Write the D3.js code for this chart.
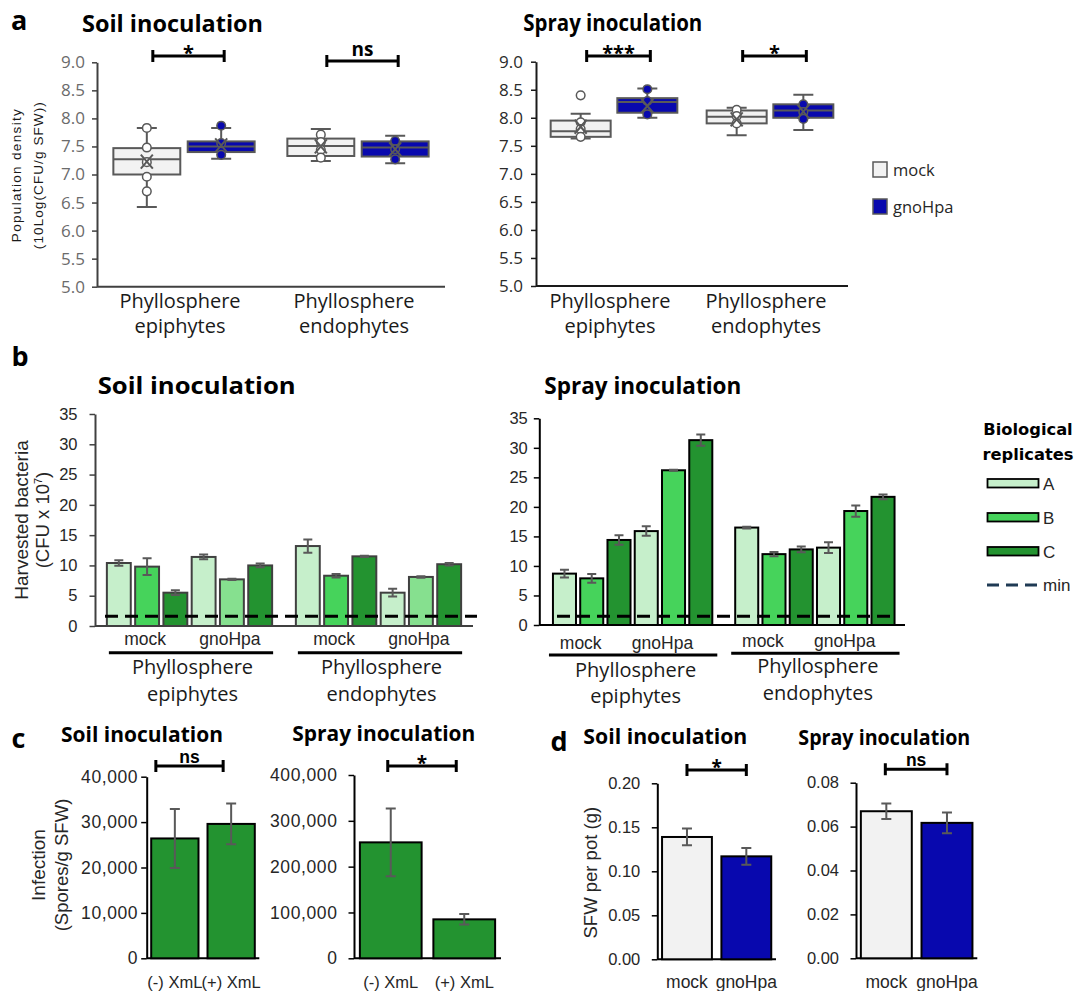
<!DOCTYPE html>
<html lang="en">
<head>
<meta charset="utf-8">
<title>Phyllosphere colonisation, infection and shoot weight</title>
<script src="https://cdn.jsdelivr.net/npm/d3@7/dist/d3.min.js"></script>
<style>
  html, body { margin: 0; background: #fff; }
  svg { display: block; }
</style>
</head>
<body>
<script>
// ---------- shared categories ----------
const compartments = ["epiphytes", "endophytes"];
const conditions = ["mock", "gnoHpa"];
const replicates = ["A", "B", "C"];

// ---------- a: population density, 10Log(CFU/g SFW) ----------
// box order: epiphytes-mock, epiphytes-gnoHpa, endophytes-mock, endophytes-gnoHpa
const densityTicks = [5.0, 5.5, 6.0, 6.5, 7.0, 7.5, 8.0, 8.5, 9.0];

const soilLow      = [6.42, 7.28, 7.24, 7.20];
const soilQ1       = [7.00, 7.40, 7.33, 7.32];
const soilMedian   = [7.27, 7.50, 7.51, 7.48];
const soilQ3       = [7.47, 7.59, 7.64, 7.59];
const soilHigh     = [7.83, 7.83, 7.81, 7.69];
const soilMean     = [7.23, 7.52, 7.50, 7.45];
const soilPoints   = [[7.83, 7.48, 7.22, 6.96, 6.70], [7.87, 7.56, 7.35], [7.71, 7.58, 7.44, 7.30], [7.60, 7.45, 7.27]];
const soilOutliers = [[], [], [], []];
const soilDensitySig = ["*", "ns"];

const sprayLow      = [7.63, 8.00, 7.69, 7.78];
const sprayQ1       = [7.66, 8.09, 7.90, 8.00];
const sprayMedian   = [7.76, 8.28, 8.02, 8.13];
const sprayQ3       = [7.95, 8.35, 8.13, 8.24];
const sprayHigh     = [8.07, 8.52, 8.18, 8.41];
const sprayMean     = [7.84, 8.21, 7.97, 8.11];
const sprayPoints   = [[7.92, 7.80, 7.66], [8.51, 8.30, 8.06], [8.14, 8.03, 7.90], [8.24, 8.10, 7.98]];
const sprayOutliers = [[8.40], [], [], []];
const sprayDensitySig = ["***", "*"];

// ---------- b: harvested bacteria (CFU x 10^7) ----------
// order: compartment > condition > replicate (A, B, C)
const harvestTicks = [0, 5, 10, 15, 20, 25, 30, 35];
const soilHarvest     = [10.4, 9.8, 5.5, 11.4, 7.7, 10.0, 13.2, 8.3, 11.5, 5.5, 8.1, 10.2];
const soilHarvestErr  = [0.45, 1.4, 0.4, 0.4, 0.1, 0.3, 1.1, 0.3, 0.1, 0.65, 0.12, 0.2];
const sprayHarvest    = [8.7, 7.9, 14.4, 15.9, 26.2, 31.3, 16.5, 12.0, 12.8, 13.1, 19.3, 21.7];
const sprayHarvestErr = [0.65, 0.75, 0.8, 0.8, 0.1, 0.95, 0.15, 0.35, 0.5, 0.9, 0.95, 0.4];
const soilDetectionMin  = 1.6;
const sprayDetectionMin = 1.5;

// ---------- c: infection (spores/g SFW) ----------
const xmlLabels = ["(-) XmL", "(+) XmL"];
const soilSpores     = [26400, 29600];
const soilSporesErr  = [6500, 4500];
const sporeTicksSoil = [0, 10000, 20000, 30000, 40000];
const spraySpores     = [253000, 85000];
const spraySporesErr  = [74000, 11500];
const sporeTicksSpray = [0, 100000, 200000, 300000, 400000];
const sporeSig = ["ns", "*"];

// ---------- d: shoot fresh weight per pot (g) ----------
const soilSFW      = [0.139, 0.117];
const soilSFWErr   = [0.0095, 0.0095];
const sfwTicksSoil = [0, 0.05, 0.10, 0.15, 0.20];
const spraySFW      = [0.067, 0.0617];
const spraySFWErr   = [0.0035, 0.0047];
const sfwTicksSpray = [0, 0.02, 0.04, 0.06, 0.08];
const sfwSig = ["*", "ns"];

// ---------- styling ----------
const SANS  = "'Open Sans', 'Noto Sans', sans-serif";
const ARIAL = "'Liberation Sans', Arial, sans-serif";
const WIDE  = "'DejaVu Sans', sans-serif";
const MOCK_FILL = "#f2f2f2";
const GNO_FILL  = "#0808ae";
const GREY = "#595959";
const REP_FILL = { A: "#c6efcb", B: "#46d35b", C: "#239330" };
const REP_B_PALE = "#86e08f";
const INFECTION_FILL = "#239330";

const svg = d3.select("body").append("svg")
  .attr("width", 1075).attr("height", 991).attr("viewBox", "0 0 1075 991");

function addText(x, y, str, o = {}) {
  const t = svg.append("text")
    .attr("x", x).attr("y", y)
    .attr("font-family", o.family || SANS)
    .attr("font-size", o.size || 16)
    .attr("font-weight", o.weight || 400)
    .attr("fill", o.fill || "#000")
    .attr("text-anchor", o.anchor || "start")
    .text(str);
  if (o.length) t.attr("textLength", o.length).attr("lengthAdjust", o.adjust || "spacingAndGlyphs");
  if (o.spacing) t.attr("letter-spacing", o.spacing);
  if (o.rotate) t.attr("transform", `rotate(-90 ${x} ${y})`);
  return t;
}

function styleAxis(g, o) {
  g.select(".domain").attr("stroke", o.line).attr("stroke-width", 2);
  g.selectAll(".tick line").attr("stroke", o.line).attr("stroke-width", 1.5);
  g.selectAll(".tick text")
    .attr("fill", o.color).attr("font-family", o.family)
    .attr("font-size", o.size).attr("letter-spacing", o.spacing || 0);
}

function yAxis(x, scale, ticks, fmt, o) {
  const g = svg.append("g").attr("transform", `translate(${x},0)`)
    .call(d3.axisLeft(scale).tickValues(ticks).tickFormat(fmt)
      .tickSize(o.tickSize || 5).tickSizeOuter(0).tickPadding(o.pad));
  styleAxis(g, o);
  return g;
}

// significance bracket; o.compact sets "ns" in a face with tighter line metrics
function bracket(x1, x2, y, label, o = {}) {
  svg.append("path")
    .attr("d", `M${x1},${y - 6}V${y + 6}M${x1},${y}H${x2}M${x2},${y - 6}V${y + 6}`)
    .attr("fill", "none").attr("stroke", "#000").attr("stroke-width", 3);
  const star = label.includes("*");
  if (star) {
    addText((x1 + x2) / 2, y + 4, label, { anchor: "middle", weight: 700, size: o.starSize || 20 });
  } else if (o.compact) {
    addText((x1 + x2) / 2, y - 3, label, { anchor: "middle", weight: 700, size: 17.5, family: ARIAL });
  } else {
    addText((x1 + x2) / 2, y - 5, label, { anchor: "middle", weight: 700, size: o.nsSize || 19 });
  }
}

// ---------- a: box plots ----------
function densityPanel(cfg) {
  const y = d3.scaleLinear().domain([5, 9]).range([cfg.y0, cfg.y1]);
  const gx = d3.scaleBand().domain(compartments).range([cfg.x0, cfg.x1]);
  const cx = d3.scaleBand().domain(conditions).range([0, gx.bandwidth()])
    .paddingInner(0.1).paddingOuter(0.22);
  const boxes = [];
  compartments.forEach((comp, i) => conditions.forEach((cond, j) => {
    const k = i * 2 + j;
    boxes.push({ comp, cond, low: cfg.low[k], q1: cfg.q1[k], med: cfg.median[k], q3: cfg.q3[k],
      high: cfg.high[k], mean: cfg.mean[k], points: cfg.points[k], outliers: cfg.outliers[k] });
  }));
  const left = d => gx(d.comp) + cx(d.cond);
  const mid = d => left(d) + cx.bandwidth() / 2;
  const fill = d => d.cond === "mock" ? MOCK_FILL : GNO_FILL;

  yAxis(cfg.x0, y, densityTicks, d3.format(".1f"),
    { line: cfg.axisColor, color: cfg.tickColor, family: SANS, size: 17, pad: cfg.pad });
  svg.append("line").attr("x1", cfg.x0).attr("x2", cfg.x1).attr("y1", y(5)).attr("y2", y(5))
    .attr("stroke", cfg.axisColor).attr("stroke-width", 2);

  const g = svg.append("g");
  const cap = 10;
  const bx = g.selectAll("g.box").data(boxes).join("g").attr("class", "box");
  // whiskers
  bx.append("path")
    .attr("d", d => `M${mid(d)},${y(d.q3)}V${y(d.high)}M${mid(d) - cap},${y(d.high)}H${mid(d) + cap}` +
      `M${mid(d)},${y(d.q1)}V${y(d.low)}M${mid(d) - cap},${y(d.low)}H${mid(d) + cap}`)
    .attr("fill", "none").attr("stroke", GREY).attr("stroke-width", 2);
  // box + median
  bx.append("rect")
    .attr("x", left).attr("width", cx.bandwidth())
    .attr("y", d => y(d.q3)).attr("height", d => y(d.q1) - y(d.q3))
    .attr("fill", fill).attr("stroke", GREY).attr("stroke-width", 2);
  bx.append("line")
    .attr("x1", left).attr("x2", d => left(d) + cx.bandwidth())
    .attr("y1", d => y(d.med)).attr("y2", d => y(d.med))
    .attr("stroke", GREY).attr("stroke-width", 2);
  // inner points and outliers
  bx.selectAll("circle")
    .data(d => d.points.concat(d.outliers).map(v => ({ v, d })))
    .join("circle")
    .attr("cx", p => mid(p.d)).attr("cy", p => y(p.v)).attr("r", 4.3)
    .attr("fill", p => p.d.cond === "mock" ? "#fff" : GNO_FILL)
    .attr("stroke", GREY).attr("stroke-width", 1.5);
  // mean marker
  bx.append("path")
    .attr("d", d => {
      const m = mid(d), v = y(d.mean);
      return `M${m - 6},${v - 7}L${m + 6},${v + 7}M${m - 6},${v + 7}L${m + 6},${v - 7}`;
    })
    .attr("fill", "none").attr("stroke", GREY).attr("stroke-width", 2);

  // significance
  compartments.forEach((comp, i) => {
    const b0 = boxes[i * 2], b1 = boxes[i * 2 + 1];
    bracket(mid(b0) + 6, mid(b1) + 3, cfg.bracketY[i], cfg.sig[i]);
  });

  // category labels
  compartments.forEach(comp => {
    const c = gx(comp) + gx.bandwidth() / 2 - 4;
    addText(c, cfg.y0 + 21.5, "Phyllosphere", { anchor: "middle", size: 20, fill: "#1a1a1a" });
    addText(c, cfg.y0 + 46.5, comp, { anchor: "middle", size: 20, fill: "#1a1a1a" });
  });
}

densityPanel({
  x0: 97, x1: 445, y0: 286.7, y1: 62.3, pad: 7,
  axisColor: "#404040", tickColor: "#6b6b6b",
  low: soilLow, q1: soilQ1, median: soilMedian, q3: soilQ3, high: soilHigh, mean: soilMean,
  points: soilPoints, outliers: soilOutliers, sig: soilDensitySig, bracketY: [56, 61]
});
densityPanel({
  x0: 536, x1: 848, y0: 286, y1: 61.7, pad: 8,
  axisColor: "#1a1a1a", tickColor: "#2b2b2b",
  low: sprayLow, q1: sprayQ1, median: sprayMedian, q3: sprayQ3, high: sprayHigh, mean: sprayMean,
  points: sprayPoints, outliers: sprayOutliers, sig: sprayDensitySig, bracketY: [56, 56]
});

addText(11, 29.5, "a", { weight: 700, size: 27 });
addText(82, 31.7, "Soil inoculation", { weight: 700, size: 23.5, length: 181 });
addText(523.3, 31, "Spray inoculation", { weight: 700, size: 23.5, length: 179 });
addText(21.5, 175.7, "Population density", { family: ARIAL, size: 13.5, rotate: true, anchor: "middle", length: 133, adjust: "spacing", fill: "#1a1a1a" });
addText(43, 175.7, "(10Log(CFU/g SFW))", { family: ARIAL, size: 13.5, rotate: true, anchor: "middle", length: 147, adjust: "spacing", fill: "#1a1a1a" });

// legend for a
conditions.forEach((cond, i) => {
  svg.append("rect").attr("x", 873).attr("y", 162 + i * 37).attr("width", 14).attr("height", 15)
    .attr("fill", cond === "mock" ? MOCK_FILL : GNO_FILL).attr("stroke", GREY).attr("stroke-width", 1.5);
  addText(893, 176 + i * 37, cond, { size: 16.5, fill: "#262626" });
});

// ---------- b: harvested bacteria ----------
function harvestPanel(cfg) {
  const y = d3.scaleLinear().domain([0, 35]).range([cfg.y0, cfg.y1]);
  const gx = d3.scaleBand().domain(compartments).range(cfg.band);
  const slots = d3.range(conditions.length * replicates.length);
  const bx = d3.scaleBand().domain(slots).range([0, gx.bandwidth()]).paddingInner(0.155).paddingOuter(0.42);
  const bars = cfg.values.map((v, i) => ({
    v, e: cfg.errors[i],
    comp: compartments[Math.floor(i / 6)],
    cond: conditions[Math.floor((i % 6) / 3)],
    rep: replicates[i % 3],
    slot: i % 6
  }));
  const left = d => gx(d.comp) + bx(d.slot);
  const mid = d => left(d) + bx.bandwidth() / 2;

  yAxis(cfg.x0, y, harvestTicks, d3.format("d"),
    { line: cfg.axisColor, color: "#262626", family: ARIAL, size: 16.5, pad: cfg.pad, tickSize: 5.5 });
  svg.append("line").attr("x1", cfg.x0).attr("x2", cfg.x1).attr("y1", y(0)).attr("y2", y(0))
    .attr("stroke", cfg.axisColor).attr("stroke-width", 2);

  svg.append("g").selectAll("rect").data(bars).join("rect")
    .attr("x", left).attr("width", bx.bandwidth())
    .attr("y", d => y(d.v)).attr("height", d => y(0) - y(d.v))
    .attr("fill", d => cfg.fill(d)).attr("stroke", cfg.barStroke).attr("stroke-width", 2);

  svg.append("g").selectAll("path").data(bars).join("path")
    .attr("d", d => `M${mid(d)},${y(d.v - d.e)}V${y(d.v + d.e)}` +
      `M${mid(d) - 4.5},${y(d.v + d.e)}H${mid(d) + 4.5}M${mid(d) - 4.5},${y(d.v - d.e)}H${mid(d) + 4.5}`)
    .attr("fill", "none").attr("stroke", GREY).attr("stroke-width", 2);

  // detection limit
  svg.append("line").attr("x1", cfg.minX[0]).attr("x2", cfg.minX[1])
    .attr("y1", y(cfg.min)).attr("y2", y(cfg.min))
    .attr("stroke", "#000").attr("stroke-width", 3).attr("stroke-dasharray", "13,7");

  // condition and compartment labels
  compartments.forEach((comp, i) => {
    const groupBars = bars.filter(b => b.comp === comp);
    conditions.forEach(cond => {
      const cb = groupBars.filter(b => b.cond === cond);
      addText(mid(cb[1]) + cfg.labelShift, cfg.condY[i], cond, { anchor: "middle", family: ARIAL, size: 17.5, fill: "#262626" });
    });
    const first = groupBars[0], last = groupBars[groupBars.length - 1];
    svg.append("line")
      .attr("x1", left(first) + cfg.underline[0]).attr("x2", left(last) + bx.bandwidth() + cfg.underline[1])
      .attr("y1", cfg.lineY[i]).attr("y2", cfg.lineY[i])
      .attr("stroke", "#000").attr("stroke-width", 3);
    const c = gx(comp) + gx.bandwidth() / 2 + 3;
    addText(c, cfg.nameY[i][0], "Phyllosphere", { anchor: "middle", size: 20, fill: "#1a1a1a" });
    addText(c, cfg.nameY[i][1], comp, { anchor: "middle", size: 20, fill: "#1a1a1a" });
  });
}

harvestPanel({
  x0: 95, x1: 473, y0: 626, y1: 414, band: [95, 473], pad: 12,
  axisColor: "#404040", barStroke: "#404040",
  values: soilHarvest, errors: soilHarvestErr, min: soilDetectionMin, minX: [105, 477],
  fill: d => (d.rep === "B" && d.cond === "gnoHpa") ? REP_B_PALE : REP_FILL[d.rep],
  labelShift: -2, condY: [645, 645], lineY: [652.7, 652.7], underline: [2, 1],
  nameY: [[674.3, 701], [674.3, 701]]
});
harvestPanel({
  x0: 539.3, x1: 905, y0: 625, y1: 418.3, band: [541.5, 906], pad: 6,
  axisColor: "#000", barStroke: "#000",
  values: sprayHarvest, errors: sprayHarvestErr, min: sprayDetectionMin, minX: [557, 893],
  fill: d => REP_FILL[d.rep],
  labelShift: -11, condY: [649, 647], lineY: [655, 653.3], underline: [-4, 5],
  nameY: [[676.7, 703.3], [673.3, 700]]
});

addText(11.5, 366, "b", { weight: 700, size: 27 });
addText(97.7, 394.3, "Soil inoculation", { weight: 700, size: 23, length: 198 });
addText(544.3, 394, "Spray inoculation", { weight: 700, size: 23, length: 197 });
addText(27.5, 520, "Harvested bacteria", { family: ARIAL, size: 19, rotate: true, anchor: "middle", fill: "#262626" });
const cfuLabel = addText(49, 520, "(CFU x 10", { family: ARIAL, size: 18.5, rotate: true, anchor: "middle", fill: "#262626" });
cfuLabel.append("tspan").attr("dy", -7).attr("font-size", 11).text("7");
cfuLabel.append("tspan").attr("dy", 7).text(")");

// legend for b
addText(1028, 435, "Biological", { family: WIDE, weight: 700, size: 16.3, anchor: "middle" });
addText(1028, 460, "replicates", { family: WIDE, weight: 700, size: 16.3, anchor: "middle" });
replicates.forEach((rep, i) => {
  svg.append("rect").attr("x", 987.5).attr("y", 479 + i * 34).attr("width", 51).attr("height", 8.5)
    .attr("fill", REP_FILL[rep]).attr("stroke", "#000").attr("stroke-width", 1.8);
  addText(1043, 489.5 + i * 34, rep, { family: ARIAL, size: 17, fill: "#262626" });
});
svg.append("line").attr("x1", 987).attr("x2", 1039).attr("y1", 585).attr("y2", 585)
  .attr("stroke", "#1f3a54").attr("stroke-width", 3).attr("stroke-dasharray", "12,7");
addText(1043, 591, "min", { family: ARIAL, size: 17, fill: "#262626" });

// ---------- c and d: two-bar panels ----------
function pairPanel(cfg) {
  const y = d3.scaleLinear().domain([0, cfg.max]).range([cfg.y0, cfg.y1]);
  const x = d3.scaleBand().domain(cfg.labels).range([cfg.x0, cfg.x1]).paddingInner(0.16).paddingOuter(0.08);
  const bars = cfg.labels.map((l, i) => ({ l, v: cfg.values[i], e: cfg.errors[i], fill: cfg.fills[i] }));
  const mid = d => x(d.l) + x.bandwidth() / 2;

  yAxis(cfg.x0, y, cfg.ticks, cfg.format,
    { line: "#000", color: "#262626", family: ARIAL, size: cfg.tickSize, pad: cfg.pad, tickSize: 5.5, spacing: cfg.spacing });
  svg.append("line").attr("x1", cfg.x0).attr("x2", cfg.x1).attr("y1", y(0)).attr("y2", y(0))
    .attr("stroke", "#000").attr("stroke-width", 2);

  svg.append("g").selectAll("rect").data(bars).join("rect")
    .attr("x", d => x(d.l)).attr("width", x.bandwidth())
    .attr("y", d => y(d.v)).attr("height", d => y(0) - y(d.v))
    .attr("fill", d => d.fill).attr("stroke", "#000").attr("stroke-width", 2);
  svg.append("g").selectAll("path").data(bars).join("path")
    .attr("d", d => `M${mid(d)},${y(d.v - d.e)}V${y(d.v + d.e)}` +
      `M${mid(d) - 5},${y(d.v + d.e)}H${mid(d) + 5}M${mid(d) - 5},${y(d.v - d.e)}H${mid(d) + 5}`)
    .attr("fill", "none").attr("stroke", GREY).attr("stroke-width", 2);

  bars.forEach(d => addText(mid(d), 988, d.l, { anchor: "middle", family: ARIAL, size: cfg.labelSize, fill: "#262626" }));
  bracket(mid(bars[0]) + cfg.bracketShift[0], mid(bars[1]) + cfg.bracketShift[1], cfg.bracketY, cfg.sig,
    { starSize: 19, compact: true });
}

pairPanel({
  x0: 146.7, x1: 259.3, y0: 958.3, y1: 776.7, max: 40000, ticks: sporeTicksSoil, format: d3.format(","),
  tickSize: 17.5, spacing: 0.6, pad: 3, labels: xmlLabels, values: soilSpores, errors: soilSporesErr,
  fills: [INFECTION_FILL, INFECTION_FILL], labelSize: 16.5, sig: sporeSig[0], bracketY: 766, bracketShift: [-19, -8]
});
pairPanel({
  x0: 354, x1: 501, y0: 958.3, y1: 775, max: 400000, ticks: sporeTicksSpray, format: d3.format(","),
  tickSize: 17.5, spacing: 0.6, pad: 11, labels: xmlLabels, values: spraySpores, errors: spraySporesErr,
  fills: [INFECTION_FILL, INFECTION_FILL], labelSize: 16.5, sig: sporeSig[1], bracketY: 766, bracketShift: [-3, -8]
});
pairPanel({
  x0: 657.3, x1: 776, y0: 959.3, y1: 783.3, max: 0.20, ticks: sfwTicksSoil, format: d3.format(".2f"),
  tickSize: 16.5, pad: 11.5, labels: conditions, values: soilSFW, errors: soilSFWErr,
  fills: [MOCK_FILL, GNO_FILL], labelSize: 17.5, sig: sfwSig[0], bracketY: 770, bracketShift: [0, 0]
});
pairPanel({
  x0: 856, x1: 977.3, y0: 958.3, y1: 782.7, max: 0.08, ticks: sfwTicksSpray, format: d3.format(".2f"),
  tickSize: 16.5, pad: 11.5, labels: conditions, values: spraySFW, errors: spraySFWErr,
  fills: [MOCK_FILL, GNO_FILL], labelSize: 17.5, sig: sfwSig[1], bracketY: 769.3, bracketShift: [-1, 0]
});

addText(11.5, 748, "c", { weight: 700, size: 27 });
addText(61, 741.5, "Soil inoculation", { weight: 700, size: 20.5, length: 162 });
addText(292.3, 740.5, "Spray inoculation", { weight: 700, size: 20.5, length: 183 });
addText(45, 865, "Infection", { family: ARIAL, size: 19, rotate: true, anchor: "middle", fill: "#262626" });
addText(68, 865, "(Spores/g SFW)", { family: ARIAL, size: 18.5, rotate: true, anchor: "middle", fill: "#262626" });

addText(550.5, 751, "d", { weight: 700, size: 27 });
addText(583.3, 744, "Soil inoculation", { weight: 700, size: 20.5, length: 164 });
addText(798.3, 744.5, "Spray inoculation", { weight: 700, size: 20.5, length: 172 });
addText(597, 872.7, "SFW per pot (g)", { family: ARIAL, size: 18.5, rotate: true, anchor: "middle", fill: "#262626" });
</script>
</body>
</html>
